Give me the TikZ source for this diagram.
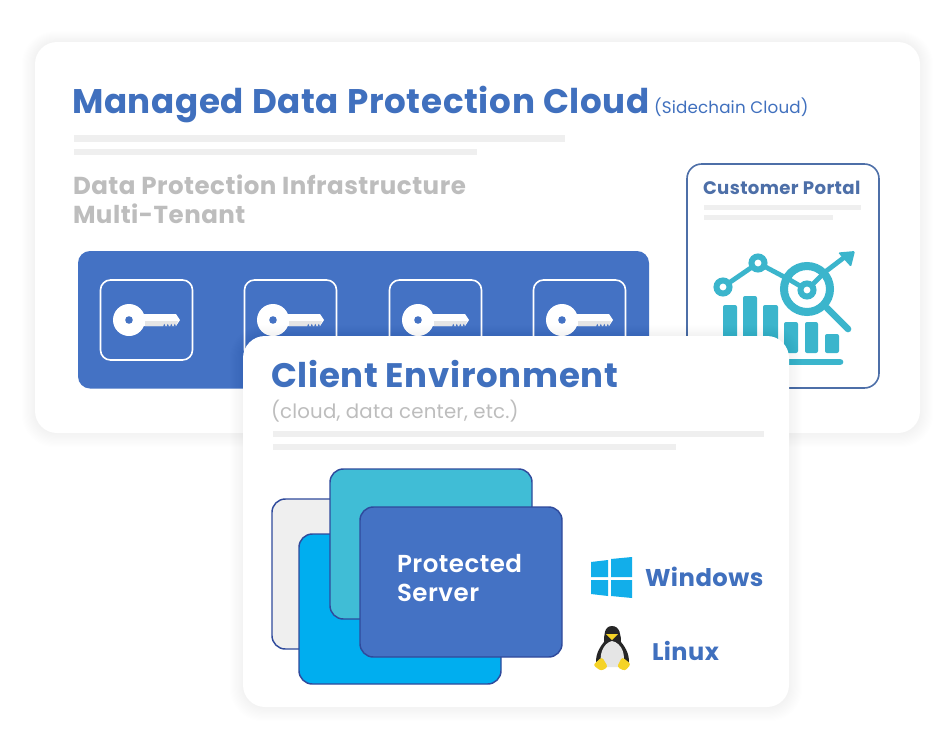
\documentclass[tikz,border=0pt]{standalone}
\usepackage{fontspec}
\setmainfont{Poppins}
\newfontfamily\bfp[LetterSpace=2]{Poppins Bold}
\newfontfamily\sbp[LetterSpace=2]{Poppins SemiBold}
\newfontfamily\rgp[LetterSpace=1]{Poppins}
\definecolor{titleblue}{HTML}{4070BE}
\definecolor{panelblue}{HTML}{4472C4}
\definecolor{bargray}{HTML}{EFEFEF}
\definecolor{graytext}{HTML}{BDBDBD}
\definecolor{chartteal}{HTML}{3BB5CC}
\definecolor{portalline}{HTML}{4D6FA8}
\definecolor{srvline}{HTML}{2F4A9C}
\definecolor{winblue}{HTML}{12AEEA}
\definecolor{srvcyan}{HTML}{00AEEF}
\definecolor{srvteal}{HTML}{40BDD6}
\definecolor{tuxyellow}{HTML}{F5D327}
\tikzset{
 px/.style={x=0.75pt,y=-0.75pt},
 txt/.style={anchor=base west,inner sep=0pt,outer sep=0pt},
 keybox/.style={draw=white,line width=1.2pt,rounded corners=7.5pt},
 barline/.style={fill=bargray},
 chart/.style={draw=chartteal,line width=3.6pt,line cap=round},
 chartfill/.style={fill=chartteal,rounded corners=1.5pt},
 srv/.style={draw=srvline,line width=1.1pt,rounded corners=10pt},
 win/.style={fill=winblue},
}
\newcommand{\softshadow}[5]{%
 \foreach \i in {1,...,12}{
  \fill[black,opacity=0.005,rounded corners={#5+\i*0.75pt}]
   ({#1-\i*1.1},{#2-\i*0.9}) rectangle ({#3+\i*1.1},{#4+\i*1.2});
 }}
\newcommand{\keyicon}[1]{%
 \begin{scope}[shift={(#1,0)}]
  \fill[white] (0,314) -- (47,314) -- (51,320) -- (47,326) -- (0,326) -- cycle;
  \fill[white!80!gray] (16,321) -- (49,321) -- (47,326) -- (16,326) -- cycle;
  \foreach \t in {34,37.5,41,44.5}{\fill[panelblue] (\t,326.6) -- (\t+1.3,323.8) -- (\t+2.6,326.6) -- cycle;}
  \fill[white] (0,320) circle (16);
  \fill[panelblue] (0,320) circle (3.8);
 \end{scope}}
\begin{document}
\begin{tikzpicture}[px]
\useasboundingbox (0,0) rectangle (943,739);
\fill[white] (0,0) rectangle (943,739);
% main card
\softshadow{35}{42}{920}{433}{16pt}
\fill[white,rounded corners=16.5pt] (35,42) rectangle (920,433);
\node[txt,text=titleblue,font=\bfp\fontsize{25.6pt}{30pt}\selectfont] (title) at (72,113) {Managed Data Protection Cloud};
\node[txt,text=titleblue,font=\rgp\fontsize{12.55pt}{15pt}\selectfont] (sub) at (654,113) {(Sidechain Cloud)};
\fill[barline] (74,135) rectangle (565,142);
\fill[barline] (74,149) rectangle (477,155);
\node[txt,text=graytext,font=\bfp\fontsize{18.4pt}{22pt}\selectfont] (inf1) at (73,194) {Data Protection Infrastructure};
\node[txt,text=graytext,font=\bfp\fontsize{18.4pt}{22pt}\selectfont] (inf2) at (73,223) {Multi-Tenant};
% panel
\fill[panelblue,rounded corners=9pt] (78,251) rectangle (649,388.5);
\foreach \x in {100.5,244.5,389.5,533.5}{\draw[keybox] (\x,280) rectangle (\x+92,360);}
\keyicon{129}\keyicon{273}\keyicon{418}\keyicon{562}
% portal
\draw[portalline,line width=1.2pt,rounded corners=11pt,fill=white] (687,164) rectangle (879,388);
\node[txt,text=portalline,font=\bfp\fontsize{13.6pt}{15pt}\selectfont] (portal) at (703,194) {Customer Portal};
\fill[barline] (704,205) rectangle (861,210);
\fill[barline] (704,215) rectangle (833,220);
\foreach \a/\b/\c in {723/737/305,743/757/296,763/778/305,784/798/322,805/818/322,825/839/334}{
 \fill[chartfill] (\a,\c) rectangle (\b,353);}
\draw[chart,line width=5pt] (735,362) -- (840,362);
\draw[chart] (723,287) -- (758,263) -- (790,280);
\draw[chart] (825,272) -- (846,256);
\fill[chartteal,rounded corners=1pt] (855,251) -- (838,252.5) -- (851,267) -- cycle;
\draw[chart,line width=5pt] (827,308) -- (848,329);
\draw[chart] (790,280) -- (807,290) -- (825,272);
\draw[chart,line width=6pt] (807,289) circle (23);
\foreach \p/\r in {723/287,758/263,807/290}{
 \fill[white] (\p,\r) circle (5); \draw[chart,line width=4.5pt] (\p,\r) circle (6.5);}
% client card
\softshadow{243}{336}{789}{707}{16pt}
\fill[white,rounded corners=16.5pt] (243,336) rectangle (789,707);
\node[txt,text=titleblue,font=\bfp\fontsize{25.5pt}{30pt}\selectfont] (client) at (271,387) {Client Environment};
\node[txt,text=graytext,font=\rgp\fontsize{14.8pt}{17pt}\selectfont] (cloud) at (271,418) {(cloud, data center, etc.)};
\fill[barline] (273,431) rectangle (764,437);
\fill[barline] (273,444) rectangle (676,450);
% servers
\draw[srv,fill=bargray] (272,499) rectangle (420,649);
\draw[srv,fill=srvcyan] (299,534) rectangle (501,684);
\draw[srv,fill=srvteal] (330,469) rectangle (532,619);
\draw[srv,fill=panelblue] (360,507) rectangle (562,657);
\node[txt,text=white,font=\sbp\fontsize{18.4pt}{22pt}\selectfont] (srv1) at (397,572) {Protected};
\node[txt,text=white,font=\sbp\fontsize{18.4pt}{22pt}\selectfont] (srv2) at (397,601) {Server};
% windows logo
\fill[win] (591,562) -- (608,560) -- (608,577) -- (591,577) -- cycle;
\fill[win] (611,559) -- (632,557) -- (632,577) -- (611,577) -- cycle;
\fill[win] (591,580) -- (608,580) -- (608,596) -- (591,594) -- cycle;
\fill[win] (611,580) -- (632,580) -- (632,598) -- (611,596) -- cycle;
\node[txt,text=titleblue,font=\bfp\fontsize{18.2pt}{22pt}\selectfont] (win) at (645,586) {Windows};
% tux
\fill[black!85] (612,626) .. controls (620,626) and (621,636) .. (621,642) .. controls (626,648) and (631,657) .. (628,666) -- (597,666) .. controls (594,657) and (599,648) .. (604,642) .. controls (604,636) and (604,626) .. (612,626) -- cycle;
\fill[black!10] (612,641) .. controls (622,643) and (627,656) .. (622,667) -- (602,667) .. controls (598,656) and (603,643) .. (612,641) -- cycle;
\fill[tuxyellow] (606,634) -- (618,634) -- (612,640) -- cycle;
\fill[tuxyellow,rounded corners=2pt] (593,665) -- (602,657) -- (608,667) -- (601,671) -- cycle;
\fill[tuxyellow,rounded corners=2pt] (631,664) -- (622,657) -- (617,667) -- (625,671) -- cycle;
\node[txt,text=titleblue,font=\bfp\fontsize{18pt}{22pt}\selectfont] (linux) at (652,660) {Linux};
\end{tikzpicture}
\end{document}
